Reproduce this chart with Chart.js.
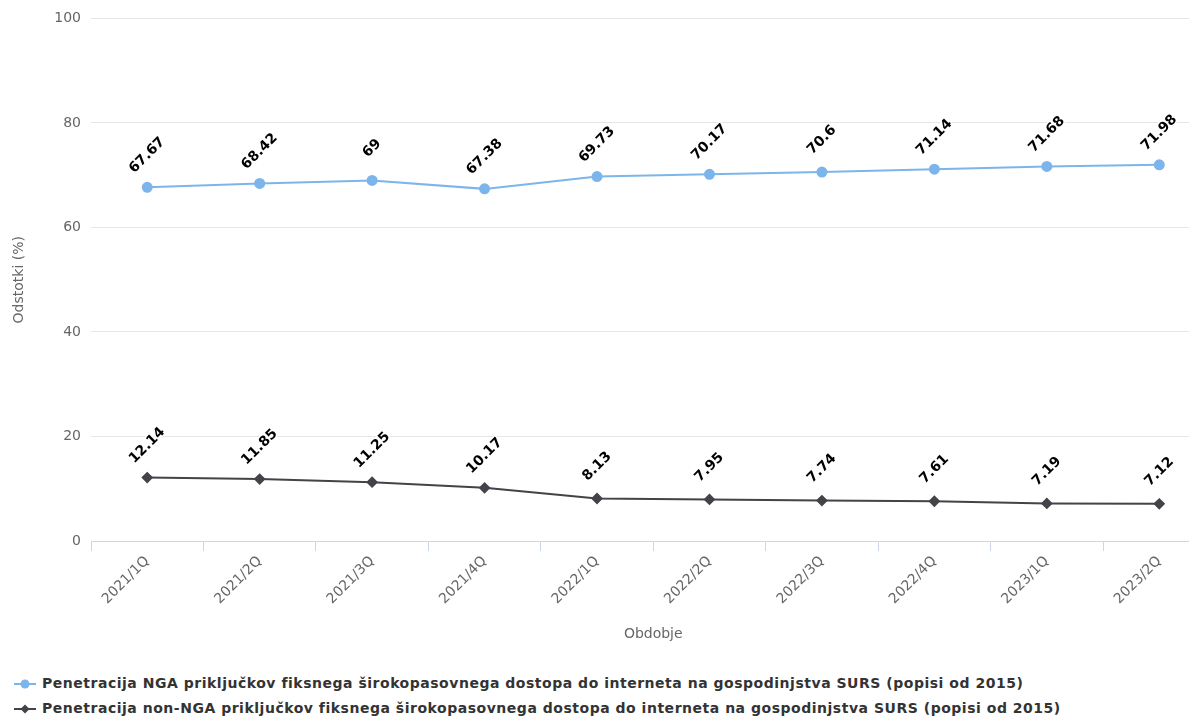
<!DOCTYPE html>
<html>
<head>
<meta charset="utf-8">
<script src="https://cdn.jsdelivr.net/npm/chart.js@4"></script>
<style>
  html, body { margin: 0; padding: 0; background: #fff; width: 1189px; height: 720px; overflow: hidden; }
  #wrap { position: absolute; left: 0; top: 0; width: 1222px; height: 655px; }
  #legend { position: absolute; left: 14px; top: 671px; font-family: "DejaVu Sans", sans-serif; font-weight: bold; font-size: 14px; letter-spacing: 0.52px; color: #333; }
  .item { height: 25px; line-height: 25px; white-space: nowrap; display: flex; align-items: center; }
  .item svg { margin-right: 6px; }
</style>
</head>
<body>
<div id="wrap"><canvas id="c"></canvas></div>
<div id="legend"></div>
<script>
const categories = ['2021/1Q', '2021/2Q', '2021/3Q', '2021/4Q', '2022/1Q', '2022/2Q', '2022/3Q', '2022/4Q', '2023/1Q', '2023/2Q'];
const ngaValues = [67.67, 68.42, 69, 67.38, 69.73, 70.17, 70.6, 71.14, 71.68, 71.98];
const nonNgaValues = [12.14, 11.85, 11.25, 10.17, 8.13, 7.95, 7.74, 7.61, 7.19, 7.12];
const yTicks = [0, 20, 40, 60, 80, 100];
const seriesNames = [
  'Penetracija NGA priključkov fiksnega širokopasovnega dostopa do interneta na gospodinjstva SURS (popisi od 2015)',
  'Penetracija non-NGA priključkov fiksnega širokopasovnega dostopa do interneta na gospodinjstva SURS (popisi od 2015)'
];
const colors = ['#7cb5ec', '#434348'];

// Rotated value labels above every point
const valueLabels = {
  id: 'valueLabels',
  afterDatasetsDraw(chart) {
    const ctx = chart.ctx;
    ctx.save();
    ctx.font = 'bold 14px "DejaVu Sans", sans-serif';
    ctx.fillStyle = '#000';
    ctx.textAlign = 'center';
    ctx.textBaseline = 'middle';
    chart.data.datasets.forEach((ds, i) => {
      chart.getDatasetMeta(i).data.forEach((pt, j) => {
        ctx.save();
        ctx.translate(pt.x, pt.y - 32);
        ctx.rotate(-Math.PI / 4);
        ctx.strokeStyle = '#fff';
        ctx.lineWidth = 3;
        ctx.lineJoin = 'round';
        ctx.strokeText(String(ds.data[j]), 0, 0);
        ctx.fillText(String(ds.data[j]), 0, 0);
        ctx.restore();
      });
    });
    ctx.restore();
  }
};

const tickFont = { family: '"DejaVu Sans", sans-serif', size: 14 };

new Chart(document.getElementById('c'), {
  type: 'line',
  data: {
    labels: categories,
    datasets: [
      { label: seriesNames[0], data: ngaValues, borderColor: colors[0], backgroundColor: colors[0],
        borderWidth: 2, pointStyle: 'circle', pointRadius: 4.5, pointHoverRadius: 4.5, tension: 0 },
      { label: seriesNames[1], data: nonNgaValues, borderColor: colors[1], backgroundColor: colors[1],
        borderWidth: 2, pointStyle: 'rectRot', pointRadius: 4.5, pointHoverRadius: 4.5, tension: 0 }
    ]
  },
  options: {
    responsive: true,
    maintainAspectRatio: false,
    animation: false,
    layout: { padding: { top: 13, right: 6, left: 0, bottom: 0 } },
    plugins: { legend: { display: false }, tooltip: { enabled: false } },
    scales: {
      x: {
        offset: true,
        grid: { offset: true, drawOnChartArea: false, color: '#ccd6eb', tickLength: 10 },
        border: { color: '#ccd6eb' },
        ticks: { color: '#666', font: tickFont, minRotation: 45, maxRotation: 45, autoSkip: false, padding: 2 },
        title: { display: true, text: 'Obdobje', color: '#666', font: { family: '"DejaVu Sans", sans-serif', size: 14 }, padding: { top: 0, bottom: 12 } },
        afterFit(scale) { scale.height = 114; }
      },
      y: {
        min: 0, max: 100,
        afterBuildTicks(scale) { scale.ticks = yTicks.map(v => ({ value: v })); },
        grid: { color: '#e6e6e6', drawTicks: false },
        border: { display: false },
        ticks: { color: '#666', font: tickFont, padding: 10 },
        title: { display: true, text: 'Odstotki (%)', color: '#666', font: { family: '"DejaVu Sans", sans-serif', size: 14 }, padding: { top: 11, bottom: 0 } },
        afterFit(scale) { scale.width = 91; }
      }
    }
  },
  plugins: [valueLabels]
});

// Legend rows with line + marker swatches
const legend = document.getElementById('legend');
seriesNames.forEach((name, i) => {
  const marker = i === 0
    ? `<circle cx="11" cy="8" r="4.5" fill="${colors[i]}"/>`
    : `<path d="M11 3.5 L15.5 8 L11 12.5 L6.5 8 Z" fill="${colors[i]}"/>`;
  const row = document.createElement('div');
  row.className = 'item';
  row.innerHTML = `<svg width="22" height="16"><line x1="0" y1="8" x2="22" y2="8" stroke="${colors[i]}" stroke-width="2"/>${marker}</svg><span>${name}</span>`;
  legend.appendChild(row);
});
</script>
</body>
</html>
